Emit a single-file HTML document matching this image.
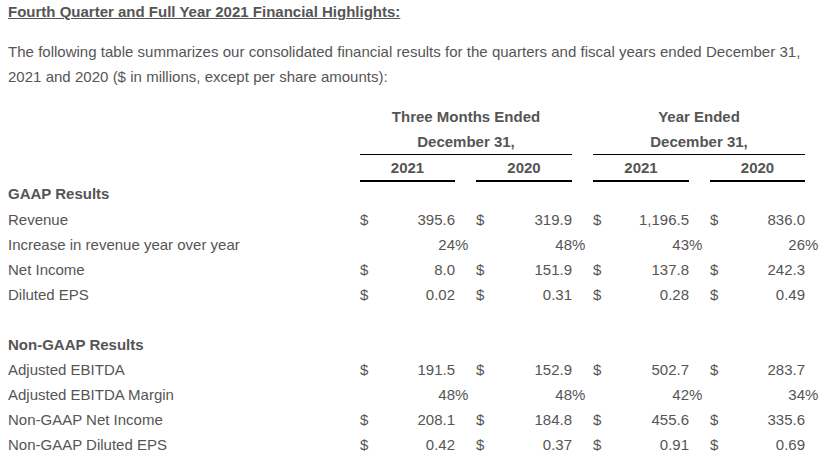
<!DOCTYPE html>
<html>
<head>
<meta charset="utf-8">
<style>
html, body { margin: 0; padding: 0; background: #fff; }
body { width: 831px; height: 467px; overflow: hidden; position: relative;
  font-family: "Liberation Sans", sans-serif; font-size: 15px; color: #555; }
.title { position: absolute; left: 8px; top: -1px; font-weight: bold; line-height: 25px; text-decoration: underline; white-space: nowrap; }
.para { position: absolute; left: 8px; top: 39px; line-height: 25px; width: 823px; white-space: nowrap; word-spacing: 0.12px; }
table { position: absolute; left: 8px; top: 104px; border-collapse: collapse; table-layout: fixed; }
td { padding: 0; height: 25px; line-height: 25px; white-space: nowrap; vertical-align: top; }
.b { font-weight: bold; }
.c { text-align: center; }
.r { text-align: right; }
.l { text-align: left; }
.t1 { border-bottom: 1px solid #000; }
.t2 { border-bottom: 2px solid #000; }
tr.h2 td { height: 25px; }
</style>
</head>
<body>
<div class="title">Fourth Quarter and Full Year 2021 Financial Highlights:</div>
<div class="para">The following table summarizes our consolidated financial results for the quarters and fiscal years ended December 31,<br>2021 and 2020 ($ in millions, except per share amounts):</div>
<table>
<colgroup>
<col style="width:352px">
<col style="width:15px"><col style="width:80px"><col style="width:21px">
<col style="width:15px"><col style="width:81px"><col style="width:21px">
<col style="width:15px"><col style="width:81px"><col style="width:21px">
<col style="width:15px"><col style="width:80px"><col style="width:21px">
</colgroup>
<tr><td></td><td colspan="5" class="b c">Three Months Ended</td><td></td><td colspan="5" class="b c">Year Ended</td><td></td></tr>
<tr><td></td><td colspan="5" class="b c t1">December 31,</td><td></td><td colspan="5" class="b c t1">December 31,</td><td></td></tr>
<tr><td></td><td colspan="2" class="b c t2">2021</td><td></td><td colspan="2" class="b c t2">2020</td><td></td><td colspan="2" class="b c t2">2021</td><td></td><td colspan="2" class="b c t2">2020</td><td></td></tr>
<tr><td class="b">GAAP Results</td><td></td><td></td><td></td><td></td><td></td><td></td><td></td><td></td><td></td><td></td><td></td><td></td></tr>
<tr><td>Revenue</td><td>$</td><td class="r">395.6</td><td></td><td>$</td><td class="r">319.9</td><td></td><td>$</td><td class="r">1,196.5</td><td></td><td>$</td><td class="r">836.0</td><td></td></tr>
<tr><td>Increase in revenue year over year</td><td></td><td class="r">24</td><td>%</td><td></td><td class="r">48</td><td>%</td><td></td><td class="r">43</td><td>%</td><td></td><td class="r">26</td><td>%</td></tr>
<tr><td>Net Income</td><td>$</td><td class="r">8.0</td><td></td><td>$</td><td class="r">151.9</td><td></td><td>$</td><td class="r">137.8</td><td></td><td>$</td><td class="r">242.3</td><td></td></tr>
<tr><td>Diluted EPS</td><td>$</td><td class="r">0.02</td><td></td><td>$</td><td class="r">0.31</td><td></td><td>$</td><td class="r">0.28</td><td></td><td>$</td><td class="r">0.49</td><td></td></tr>
<tr><td>&nbsp;</td><td></td><td></td><td></td><td></td><td></td><td></td><td></td><td></td><td></td><td></td><td></td><td></td></tr>
<tr><td class="b">Non-GAAP Results</td><td></td><td></td><td></td><td></td><td></td><td></td><td></td><td></td><td></td><td></td><td></td><td></td></tr>
<tr><td>Adjusted EBITDA</td><td>$</td><td class="r">191.5</td><td></td><td>$</td><td class="r">152.9</td><td></td><td>$</td><td class="r">502.7</td><td></td><td>$</td><td class="r">283.7</td><td></td></tr>
<tr><td>Adjusted EBITDA Margin</td><td></td><td class="r">48</td><td>%</td><td></td><td class="r">48</td><td>%</td><td></td><td class="r">42</td><td>%</td><td></td><td class="r">34</td><td>%</td></tr>
<tr><td>Non-GAAP Net Income</td><td>$</td><td class="r">208.1</td><td></td><td>$</td><td class="r">184.8</td><td></td><td>$</td><td class="r">455.6</td><td></td><td>$</td><td class="r">335.6</td><td></td></tr>
<tr><td>Non-GAAP Diluted EPS</td><td>$</td><td class="r">0.42</td><td></td><td>$</td><td class="r">0.37</td><td></td><td>$</td><td class="r">0.91</td><td></td><td>$</td><td class="r">0.69</td><td></td></tr>
</table>
</body>
</html>
